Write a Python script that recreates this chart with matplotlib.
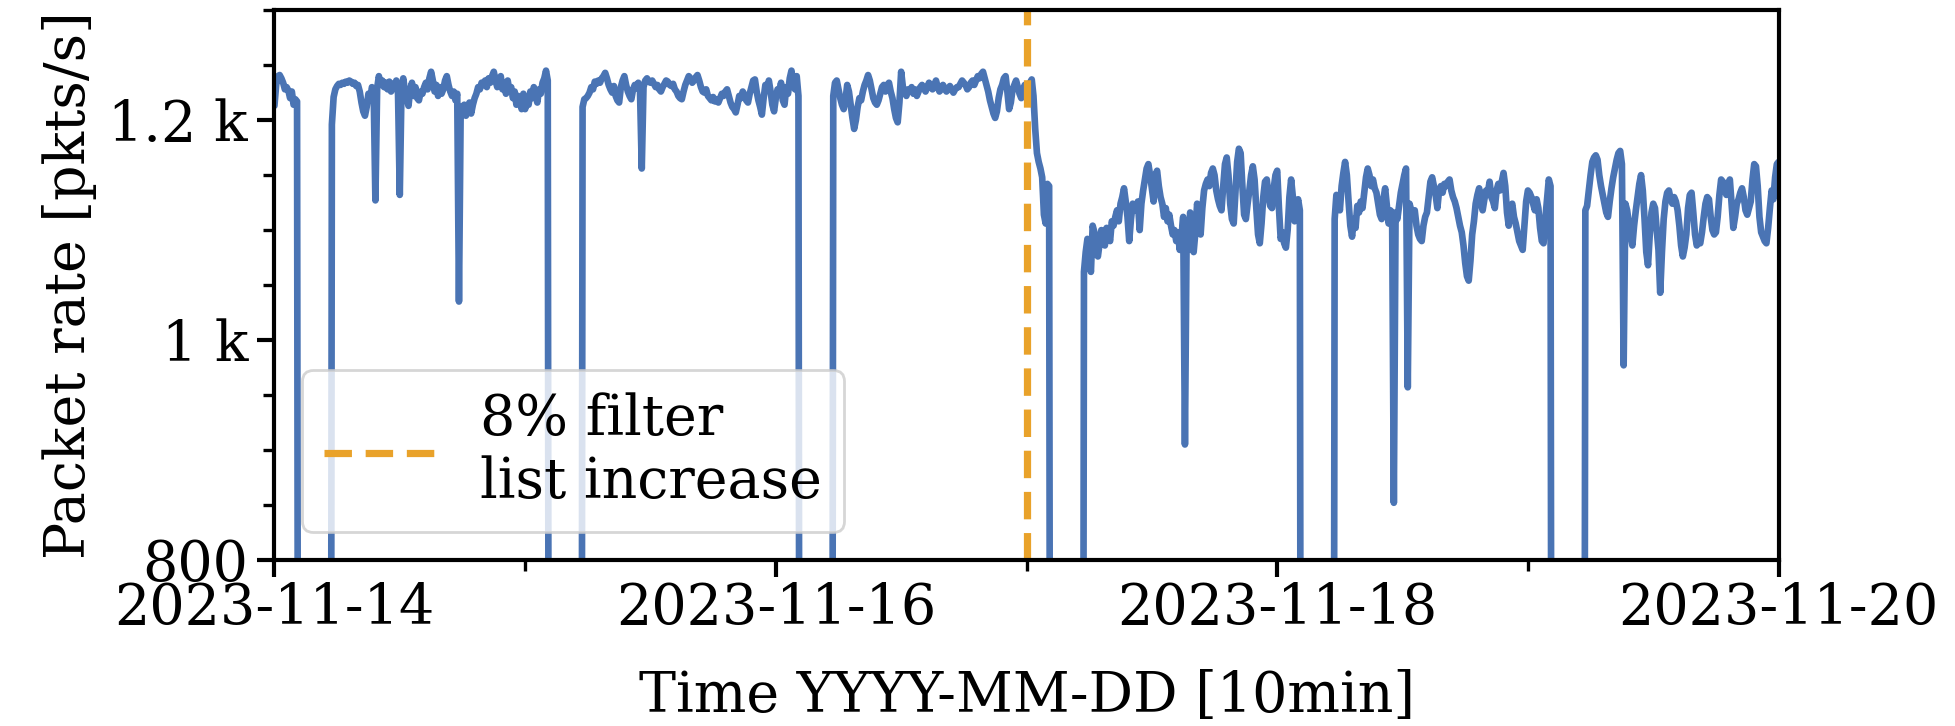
import matplotlib
matplotlib.use('Agg')
import matplotlib.pyplot as plt
import matplotlib.dates as mdates
import matplotlib.ticker as mticker
import pandas as pd

plt.rcParams['font.family'] = 'DejaVu Serif'
plt.rcParams['font.size'] = 20

blue = '#4a74b4'
orange = '#e9a22a'

# packet rate [pkts/s], one value per 10 min; the collector goes down every
# night from ~02:20 to ~05:20 and the rate drops to zero
outage = [0] * 19

nov14_head = [1213, 1232, 1240, 1241, 1238, 1234, 1228, 1230, 1227, 1220, 1226, 1214, 1219, 1217]
nov14_tail = [1196, 1221, 1228, 1231, 1233, 1232, 1234, 1233, 1235, 1234,
              1236, 1235, 1233, 1234, 1231, 1232, 1226, 1216, 1208, 1204,
              1212, 1224, 1218, 1230, 1226, 1127, 1229, 1240, 1232, 1236,
              1230, 1234, 1228, 1235, 1226, 1233, 1229, 1236, 1224, 1132,
              1228, 1238, 1226, 1220, 1213, 1228, 1234, 1222, 1230, 1220,
              1218, 1226, 1224, 1230, 1234, 1228, 1238, 1244, 1236, 1226,
              1232, 1222, 1230, 1224, 1228, 1236, 1240, 1232, 1226, 1222,
              1226, 1218, 1224, 1035, 1212, 1208, 1214, 1204, 1212, 1216,
              1206, 1214, 1220, 1224, 1230, 1228, 1234, 1232, 1236, 1230,
              1238, 1234, 1240, 1244, 1236, 1230, 1236, 1240, 1228, 1234,
              1224, 1236, 1226, 1230, 1220, 1226, 1214, 1222, 1218, 1210, 1224]

nov15_head = [1210, 1218, 1214, 1226, 1220, 1230, 1222, 1216, 1228, 1224, 1234, 1238, 1245, 1236]
nov15_tail = [1212, 1219, 1220, 1222, 1225, 1230, 1228, 1235, 1233, 1236,
              1234, 1238, 1240, 1243, 1238, 1232, 1228, 1225, 1231, 1222,
              1218, 1216, 1230, 1236, 1240, 1232, 1226, 1222, 1219, 1228,
              1232, 1229, 1234, 1226, 1156, 1230, 1236, 1238, 1235, 1234,
              1236, 1233, 1230, 1232, 1228, 1226, 1230, 1233, 1236, 1235,
              1232, 1231, 1233, 1228, 1226, 1222, 1220, 1219, 1226, 1232,
              1236, 1240, 1238, 1234, 1236, 1239, 1241, 1236, 1230, 1226,
              1225, 1228, 1222, 1220, 1218, 1221, 1217, 1219, 1216, 1220,
              1224, 1222, 1226, 1228, 1222, 1216, 1212, 1210, 1207, 1214,
              1222, 1220, 1226, 1223, 1218, 1216, 1224, 1230, 1236, 1237,
              1226, 1218, 1212, 1205, 1220, 1232, 1228, 1236, 1226, 1214, 1208]

nov16_head = [1220, 1228, 1226, 1234, 1218, 1214, 1230, 1224, 1238, 1245, 1232, 1228, 1240, 1222]
nov16_tail = [1222, 1234, 1236, 1228, 1220, 1214, 1210, 1218, 1232, 1226,
              1214, 1202, 1192, 1200, 1212, 1220, 1218, 1226, 1232, 1236,
              1241, 1236, 1228, 1220, 1216, 1214, 1218, 1224, 1230, 1232,
              1226, 1232, 1234, 1226, 1220, 1210, 1202, 1198, 1216, 1244,
              1230, 1226, 1222, 1228, 1226, 1230, 1224, 1228, 1222, 1226,
              1230, 1232, 1229, 1226, 1230, 1234, 1231, 1228, 1232, 1236,
              1230, 1226, 1228, 1232, 1229, 1226, 1228, 1231, 1228, 1225,
              1228, 1230, 1230, 1233, 1236, 1234, 1232, 1228, 1230, 1234,
              1236, 1232, 1236, 1240, 1238, 1242, 1244, 1238, 1232, 1226,
              1218, 1212, 1206, 1202, 1208, 1220, 1228, 1232, 1238, 1240,
              1226, 1210, 1216, 1228, 1232, 1236, 1230, 1224, 1220, 1228, 1232]

nov17_head = [1224, 1230, 1234, 1237, 1222, 1192, 1170, 1162, 1156, 1148, 1114, 1106, 1142, 1140]
nov17_tail = [1062, 1080, 1092, 1072, 1062, 1104, 1098, 1080, 1076, 1088,
              1100, 1092, 1086, 1102, 1096, 1090, 1108, 1104, 1112, 1118,
              1108, 1124, 1130, 1138, 1126, 1112, 1090, 1110, 1124, 1122,
              1118, 1126, 1100, 1124, 1136, 1146, 1156, 1160, 1150, 1138,
              1126, 1150, 1154, 1140, 1130, 1124, 1112, 1120, 1108, 1114,
              1104, 1096, 1100, 1090, 1098, 1082, 1094, 1112, 905, 1100,
              1082, 1116, 1104, 1080, 1098, 1124, 1110, 1096, 1120, 1136,
              1142, 1146, 1140, 1152, 1156, 1150, 1136, 1128, 1122, 1118,
              1140, 1160, 1166, 1150, 1124, 1110, 1106, 1134, 1162, 1174,
              1170, 1140, 1114, 1110, 1124, 1136, 1150, 1158, 1146, 1120,
              1096, 1088, 1106, 1130, 1144, 1146, 1132, 1122, 1120, 1138, 1150]

nov18_head = [1154, 1120, 1092, 1098, 1088, 1084, 1100, 1130, 1146, 1130, 1108, 1120, 1128, 1118]
nov18_tail = [1110, 1132, 1128, 1118, 1140, 1152, 1162, 1150, 1126, 1104,
              1094, 1110, 1102, 1122, 1116, 1126, 1120, 1134, 1148, 1156,
              1150, 1140, 1146, 1138, 1134, 1124, 1114, 1110, 1128, 1138,
              1122, 1106, 1118, 1116, 852, 1116, 1110, 1122, 1134, 1142,
              1150, 1156, 957, 1124, 1118, 1112, 1118, 1104, 1096, 1092,
              1090, 1104, 1112, 1116, 1130, 1144, 1148, 1140, 1132, 1120,
              1136, 1140, 1134, 1142, 1140, 1144, 1146, 1136, 1130, 1126,
              1120, 1112, 1104, 1098, 1086, 1070, 1058, 1054, 1072, 1096,
              1108, 1124, 1132, 1138, 1124, 1118, 1128, 1136, 1134, 1144,
              1130, 1126, 1120, 1136, 1142, 1136, 1144, 1152, 1140, 1116,
              1104, 1120, 1124, 1112, 1106, 1098, 1090, 1086, 1082, 1104, 1126]

nov19_head = [1136, 1134, 1130, 1124, 1118, 1128, 1120, 1102, 1090, 1088, 1110, 1128, 1146, 1140]
nov19_tail = [1118, 1122, 1136, 1150, 1162, 1166, 1168, 1164, 1150, 1140,
              1132, 1124, 1116, 1112, 1126, 1138, 1148, 1156, 1164, 1170,
              1172, 1160, 977, 1124, 1118, 1106, 1096, 1086, 1104, 1118,
              1130, 1142, 1150, 1136, 1110, 1080, 1068, 1096, 1116, 1124,
              1120, 1100, 1082, 1043, 1080, 1110, 1126, 1134, 1136, 1128,
              1124, 1130, 1126, 1118, 1104, 1086, 1076, 1084, 1096, 1120,
              1132, 1134, 1116, 1096, 1086, 1090, 1088, 1098, 1112, 1124,
              1130, 1128, 1112, 1100, 1096, 1098, 1112, 1132, 1146, 1144,
              1138, 1132, 1142, 1146, 1124, 1102, 1112, 1124, 1128, 1134,
              1138, 1130, 1118, 1114, 1120, 1126, 1146, 1160, 1158, 1140,
              1112, 1098, 1094, 1090, 1088, 1102, 1120, 1136, 1128, 1148, 1160]

nov20_first = [1162]

filter_change = '2023-11-17 00:00'

days = [(nov14_head, nov14_tail), (nov15_head, nov15_tail),
        (nov16_head, nov16_tail), (nov17_head, nov17_tail),
        (nov18_head, nov18_tail), (nov19_head, nov19_tail)]
rate = []
for head, tail in days:
    rate += head + outage + tail
rate += nov20_first

times = pd.date_range('2023-11-14', periods=len(rate), freq='10min')

fig = plt.figure(figsize=(9.78, 3.63), dpi=200)
ax = fig.add_axes([0.1403, 0.2287, 0.7690, 0.7573])

ax.plot(times, rate, color=blue, lw=2.4, solid_joinstyle='round',
        solid_capstyle='round')
ax.axvline(pd.Timestamp(filter_change), color=orange, lw=2.6,
           dashes=(3.8, 1.9), label='8% filter\nlist increase')

ax.set_xlim(times[0], times[-1])
ax.set_ylim(800, 1300)
ax.xaxis.set_major_locator(mdates.DayLocator(interval=2))
ax.xaxis.set_minor_locator(mdates.DayLocator())
ax.xaxis.set_major_formatter(mdates.DateFormatter('%Y-%m-%d'))
ax.yaxis.set_major_locator(mticker.MultipleLocator(200))
ax.yaxis.set_minor_locator(mticker.MultipleLocator(50))
ax.yaxis.set_major_formatter(mticker.EngFormatter())

for s in ax.spines.values():
    s.set_linewidth(1.5)
ax.tick_params(which='major', length=6, width=1.5)
ax.tick_params(which='minor', length=4, width=1.2)
ax.tick_params(axis='x', which='major', pad=1.5)

ax.set_xlabel('Time YYYY-MM-DD [10min]', labelpad=12)
ax.set_ylabel('Packet rate [pkts/s]')
ax.legend(loc='lower left')

fig.savefig('out.png', dpi=200)
